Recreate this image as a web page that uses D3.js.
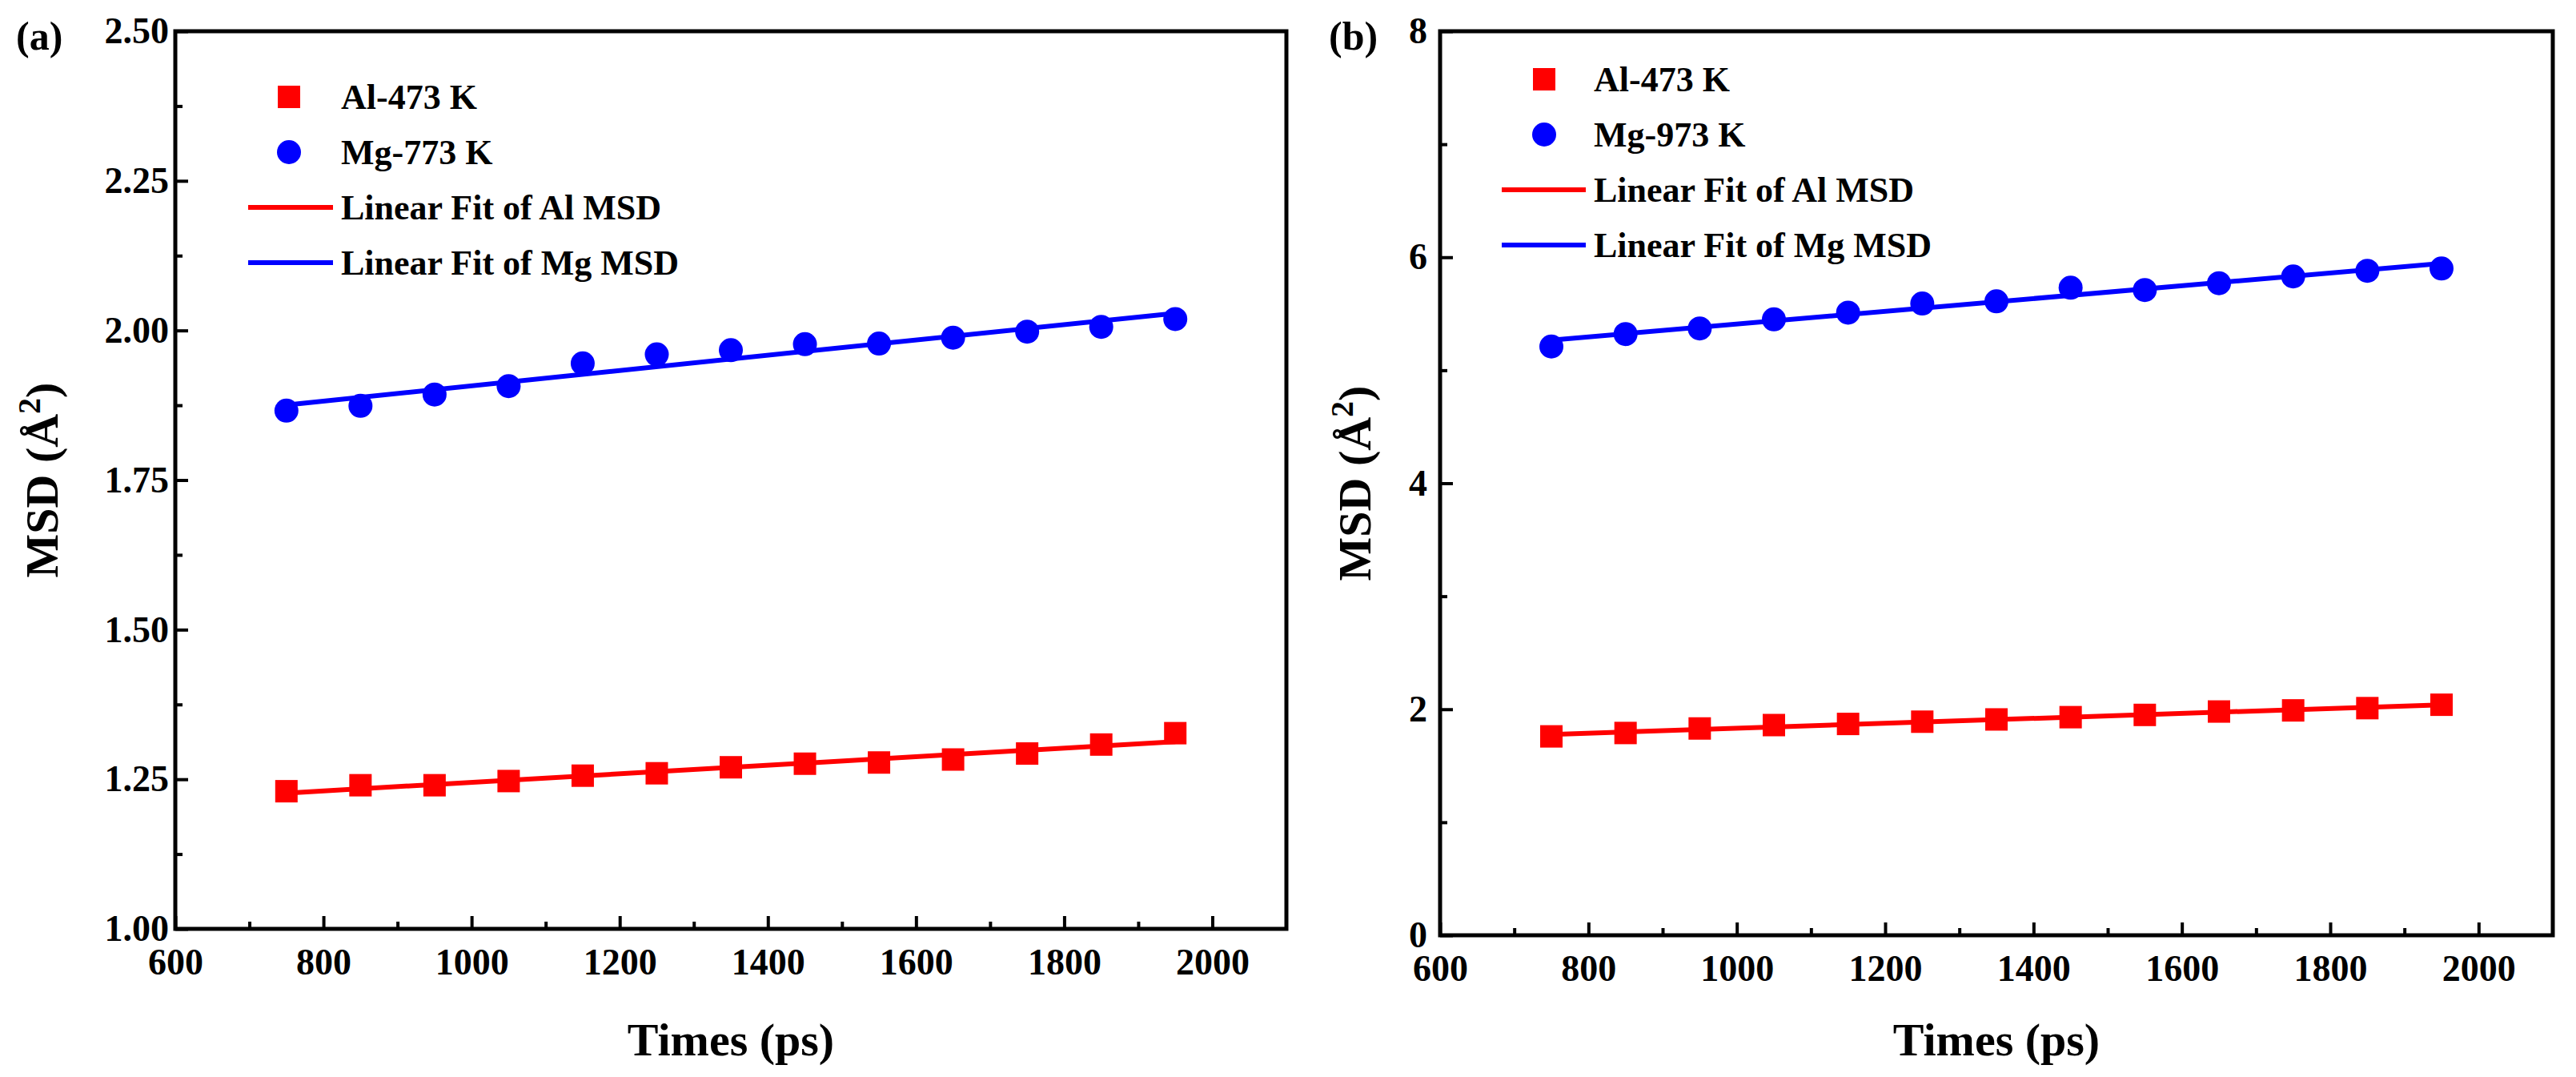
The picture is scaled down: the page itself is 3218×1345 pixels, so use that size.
<!DOCTYPE html>
<html><head><meta charset="utf-8">
<script src="https://cdn.jsdelivr.net/npm/d3@7"></script>
<style>body{margin:0;background:#fff}text{font-family:"Liberation Serif","Times New Roman",serif;font-weight:bold}</style>
</head><body>
<script>
// data
var times = [750,850,950,1050,1150,1250,1350,1450,1550,1650,1750,1850,1950];
var alA = [1.230,1.240,1.240,1.247,1.256,1.260,1.270,1.276,1.278,1.283,1.293,1.308,1.327];
var mgA = [1.866,1.874,1.893,1.907,1.945,1.960,1.967,1.977,1.978,1.988,1.998,2.006,2.019];
var alB = [1.76,1.79,1.83,1.86,1.87,1.89,1.91,1.93,1.95,1.98,1.99,2.01,2.04];
var mgB = [5.21,5.32,5.37,5.45,5.51,5.59,5.61,5.73,5.71,5.77,5.83,5.88,5.90];
var yTicksA = [1.00,1.25,1.50,1.75,2.00,2.25,2.50];
var yTicksB = [0,2,4,6,8];
var xTicks = [600,800,1000,1200,1400,1600,1800,2000];

var W = 3218, H = 1345;
var svg = d3.select("body").append("svg").attr("width",W).attr("height",H);

//least squares fit
function fit(xs, ys){
  var mx = d3.mean(xs), my = d3.mean(ys);
  var b = d3.sum(xs,(x,i)=>(x-mx)*(ys[i]-my)) / d3.sum(xs,x=>(x-mx)*(x-mx));
  return x => my + b*(x-mx);
}

function panel(o){
  var x = d3.scaleLinear().domain([600,2100]).range([o.left,o.right]);
  var y = d3.scaleLinear().domain(o.ydom).range([o.bottom,o.top]);
  var g = svg.append("g");

  //axes, ticks pointing inward
  var xa = g.append("g").attr("transform","translate(0,"+o.bottom+")")
    .call(d3.axisBottom(x).tickValues(xTicks).tickSize(-16).tickPadding(24).tickFormat(d3.format("d")));
  g.append("g").attr("transform","translate(0,"+o.bottom+")")
    .call(d3.axisBottom(x).tickValues(d3.range(700,2100,200)).tickSize(-9).tickFormat(""));
  var ya = g.append("g").attr("transform","translate("+o.left+",0)")
    .call(d3.axisLeft(y).tickValues(o.yticks).tickSize(-16).tickPadding(o.ypad).tickFormat(o.fmt));
  g.append("g").attr("transform","translate("+o.left+",0)")
    .call(d3.axisLeft(y).tickValues(o.yminor).tickSize(-9).tickFormat(""));
  g.selectAll(".domain").remove();
  g.selectAll(".tick line").attr("stroke","#000").attr("stroke-width",4);
  g.selectAll(".tick text").attr("font-size",46).attr("fill","#000");
  xa.selectAll(".tick text").attr("dy","0.71em");
  g.append("rect").attr("x",o.left).attr("y",o.top).attr("width",o.right-o.left).attr("height",o.bottom-o.top)
    .attr("fill","none").attr("stroke","#000").attr("stroke-width",5);

  //fit lines
  [[o.al,"#ff0000"],[o.mg,"#0000ff"]].forEach(s=>{
    var f = fit(times, s[0]);
    g.append("line").attr("x1",x(750)).attr("x2",x(1950)).attr("y1",y(f(750))).attr("y2",y(f(1950)))
      .attr("stroke",s[1]).attr("stroke-width",6);
  });
  g.selectAll(".sq").data(o.al).enter().append("rect")
    .attr("x",(d,i)=>x(times[i])-14).attr("y",d=>y(d)-14).attr("width",28).attr("height",28).attr("fill","#ff0000");
  g.selectAll(".ci").data(o.mg).enter().append("circle")
    .attr("cx",(d,i)=>x(times[i])).attr("cy",d=>y(d)).attr("r",15).attr("fill","#0000ff");

  //legend
  var lg = o.leg, dy = 69;
  g.append("rect").attr("x",lg.mx-14).attr("y",lg.y-14).attr("width",28).attr("height",28).attr("fill","#ff0000");
  g.append("circle").attr("cx",lg.mx).attr("cy",lg.y+dy).attr("r",15).attr("fill","#0000ff");
  g.append("line").attr("x1",lg.l1).attr("x2",lg.l2).attr("y1",lg.y+2*dy).attr("y2",lg.y+2*dy).attr("stroke","#ff0000").attr("stroke-width",6);
  g.append("line").attr("x1",lg.l1).attr("x2",lg.l2).attr("y1",lg.y+3*dy).attr("y2",lg.y+3*dy).attr("stroke","#0000ff").attr("stroke-width",6);
  o.names.forEach((t,i)=>{
    g.append("text").attr("x",lg.tx).attr("y",lg.y+i*dy).attr("dy","0.35em").attr("font-size",44).text(t);
  });

  //titles
  g.append("text").attr("x",o.lx).attr("y",62).attr("font-size",50).text(o.label);
  g.append("text").attr("x",(o.left+o.right)/2).attr("y",1318).attr("text-anchor","middle").attr("font-size",58).text("Times (ps)");
  var yt = g.append("text").attr("transform","translate("+o.ytx+","+((o.top+o.bottom)/2)+") rotate(-90)")
    .attr("text-anchor","middle").attr("font-size",58);
  yt.append("tspan").text("MSD (Å");
  yt.append("tspan").attr("font-size",40).attr("dy",-22).text("2");
  yt.append("tspan").attr("dy",22).text(")");
}

panel({left:219,right:1607,top:39,bottom:1160,ydom:[1,2.5],yticks:yTicksA,yminor:d3.range(1.125,2.5,0.25),
  fmt:d3.format(".2f"),al:alA,mg:mgA,label:"(a)",lx:20,ytx:72,ypad:8,
  names:["Al-473 K","Mg-773 K","Linear Fit of Al MSD","Linear Fit of Mg MSD"],
  leg:{mx:361,y:121,tx:426,l1:310,l2:416}});
panel({left:1799,right:3189,top:39,bottom:1168,ydom:[0,8],yticks:yTicksB,yminor:[1,3,5,7],
  fmt:d3.format("d"),al:alB,mg:mgB,label:"(b)",lx:1660,ytx:1712,ypad:16,
  names:["Al-473 K","Mg-973 K","Linear Fit of Al MSD","Linear Fit of Mg MSD"],
  leg:{mx:1929,y:99,tx:1991,l1:1876,l2:1981}});
</script>
</body></html>
